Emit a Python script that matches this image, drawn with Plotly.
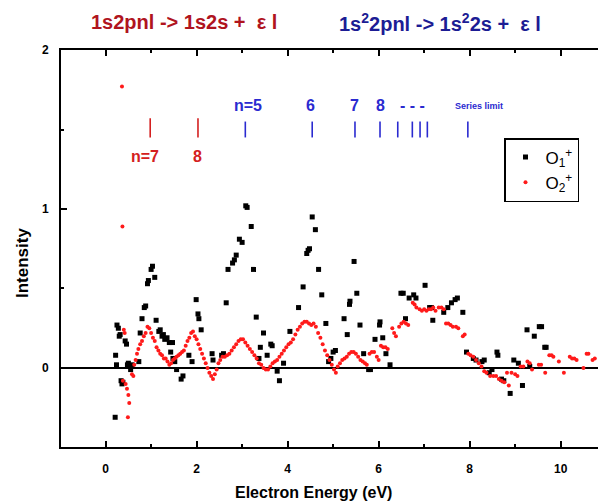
import plotly.graph_objects as go

# ---------------- data ----------------
o1_x = [0.21, 0.22, 0.24, 0.25, 0.28, 0.30, 0.32, 0.34, 0.36, 0.38, 0.43, 0.46, 0.48, 0.50, 0.53, 0.55, 0.58,
        0.73, 0.76, 0.80, 0.85, 0.88, 0.92, 0.94, 1.00, 1.03, 1.08, 1.11, 1.17, 1.20, 1.24, 1.27, 1.30, 1.35,
        1.40, 1.43, 1.47, 1.48, 1.52, 1.56, 1.66, 1.70, 1.83, 1.90, 1.99, 2.03, 2.05, 2.10, 2.34, 2.36, 2.55,
        2.59, 2.65, 2.69, 2.79, 2.83, 2.87, 2.94, 3.00, 3.08, 3.11, 3.20, 3.25, 3.31, 3.37, 3.40, 3.47, 3.55,
        3.63, 3.66, 3.77, 3.82, 3.91, 4.05, 4.24, 4.34, 4.42, 4.45, 4.48, 4.54, 4.61, 4.68, 4.75, 4.84, 4.90,
        4.95, 5.00, 5.05, 5.24, 5.31, 5.36, 5.37, 5.46, 5.52, 5.59, 5.67, 5.78, 5.82, 5.92, 6.02, 6.03, 6.09,
        6.16, 6.25, 6.49, 6.54, 6.59, 6.67, 6.77, 6.82, 7.02, 7.12, 7.16, 7.19, 7.43, 7.52, 7.60, 7.68, 7.73,
        7.85, 7.93, 8.08, 8.14, 8.27, 8.32, 8.43, 8.49, 8.60, 8.62, 8.70, 8.75, 8.89, 8.97, 9.07, 9.16, 9.26,
        9.32, 9.42, 9.53, 9.58, 9.65, 9.68]
o1_y = [-0.31, 0.08, 0.02, 0.27, 0.25, 0.20, 0.21, -0.08, -0.10, -0.09, 0.17, 0.15, 0.02, 0.03, 0.01, -0.01, 0.02,
        0.04, 0.22, 0.31, 0.38, 0.39, 0.53, 0.55, 0.62, 0.64, 0.57, 0.30, 0.23, 0.24, 0.20, 0.21, 0.18, 0.19,
        0.16, 0.10, 0.16, 0.06, 0.04, -0.01, -0.07, -0.05, 0.08, 0.04, 0.43, 0.34, 0.31, 0.24, 0.09, 0.05, 0.08,
        0.09, 0.41, 0.62, 0.66, 0.68, 0.71, 0.81, 0.79, 1.02, 1.01, 0.89, 0.62, 0.32, 0.06, 0.13, 0.22, 0.08,
        0.15, 0.14, -0.02, -0.08, 0.03, 0.23, 0.38, 0.51, 0.72, 0.74, 0.75, 0.95, 0.87, 0.62, 0.46, 0.28, 0.04,
        0.06, 0.10, 0.11, 0.31, 0.21, 0.40, 0.42, 0.67, 0.47, 0.27, 0.09, -0.01, -0.01, 0.18, 0.27, 0.29, 0.19,
        0.09, 0.02, 0.47, 0.47, 0.31, 0.44, 0.46, 0.44, 0.52, 0.38, 0.38, 0.30, 0.35, 0.38, 0.41, 0.43, 0.44,
        0.35, 0.10, 0.06, 0.05, 0.04, 0.05, -0.03, -0.01, 0.10, 0.08, -0.07, -0.08, -0.16, 0.05, 0.03, -0.11, 0.24,
        0.01, 0.20, 0.26, 0.26, 0.13, 0.13]

o2_x = [0.36, 0.37, 0.38, 0.40, 0.42, 0.44, 0.47, 0.49, 0.50, 0.52, 0.58, 0.61, 0.63, 0.66, 0.69, 0.72, 0.76,
        0.80, 0.84, 0.88, 0.92, 0.96, 1.00, 1.04, 1.08, 1.12, 1.16, 1.20, 1.24, 1.28, 1.32, 1.36, 1.40, 1.44,
        1.48, 1.52, 1.56, 1.60, 1.64, 1.68, 1.72, 1.76, 1.80, 1.84, 1.88, 1.92, 1.96, 2.00, 2.04, 2.08, 2.12,
        2.16, 2.20, 2.24, 2.28, 2.32, 2.36, 2.40, 2.44, 2.48, 2.52, 2.57, 2.62, 2.67, 2.72, 2.77, 2.82, 2.87,
        2.92, 2.97, 3.02, 3.07, 3.12, 3.17, 3.22, 3.27, 3.32, 3.37, 3.42, 3.47, 3.52, 3.57, 3.62, 3.67, 3.72,
        3.77, 3.82, 3.87, 3.92, 3.97, 4.02, 4.07, 4.12, 4.17, 4.22, 4.27, 4.32, 4.37, 4.42, 4.47, 4.52, 4.57,
        4.62, 4.67, 4.72, 4.77, 4.82, 4.87, 4.92, 4.97, 5.02, 5.06, 5.10, 5.15, 5.20, 5.25, 5.30, 5.35, 5.40,
        5.45, 5.50, 5.55, 5.60, 5.65, 5.70, 5.74, 5.80, 5.85, 5.90, 5.96, 6.00, 6.05, 6.10, 6.15, 6.20, 6.30,
        6.34, 6.38, 6.45, 6.50, 6.55, 6.60, 6.65, 6.75, 6.79, 6.83, 6.90, 6.95, 7.00, 7.05, 7.10, 7.15, 7.20,
        7.25, 7.32, 7.38, 7.43, 7.48, 7.53, 7.58, 7.63, 7.70, 7.75, 7.85, 7.89, 7.97, 8.02, 8.08, 8.14, 8.20,
        8.26, 8.32, 8.37, 8.45, 8.52, 8.58, 8.64, 8.70, 8.76, 8.82, 8.86, 8.92, 9.00, 9.05, 9.12, 9.18, 9.27,
        9.32, 9.37, 9.52, 9.57, 9.66, 9.75, 9.80, 9.84, 9.96, 10.07, 10.20, 10.25, 10.30, 10.35, 10.50, 10.57,
        10.61, 10.70, 10.75]
o2_y = [1.77, 0.89, -0.08, 0.24, 0.22, -0.10, -0.13, -0.31, -0.17, -0.22, -0.04, -0.05, 0.02, 0.05, 0.09, 0.12,
        0.15, 0.17, 0.20, 0.22, 0.26, 0.25, 0.22, 0.19, 0.17, 0.13, 0.11, 0.09, 0.08, 0.06, 0.06, 0.04, 0.02,
        0.03, 0.05, 0.06, 0.07, 0.08, 0.09, 0.10, 0.11, 0.14, 0.17, 0.19, 0.22, 0.23, 0.20, 0.18, 0.15, 0.12,
        0.09, 0.06, 0.03, 0.00, -0.03, -0.05, -0.07, -0.04, -0.01, 0.03, 0.05, 0.07, 0.07, 0.08, 0.09, 0.11,
        0.13, 0.15, 0.17, 0.18, 0.18, 0.16, 0.14, 0.12, 0.10, 0.08, 0.06, 0.03, 0.02, 0.00, -0.01, -0.01, 0.01,
        0.03, 0.04, 0.05, 0.07, 0.09, 0.11, 0.13, 0.15, 0.16, 0.18, 0.21, 0.24, 0.26, 0.28, 0.29, 0.29, 0.28,
        0.27, 0.28, 0.26, 0.22, 0.19, 0.15, 0.11, 0.08, 0.05, 0.02, -0.01, -0.03, 0.01, 0.03, 0.05, 0.06, 0.07,
        0.09, 0.10, 0.10, 0.09, 0.07, 0.05, 0.04, 0.03, 0.02, 0.09, 0.10, 0.10, 0.07, 0.05, 0.14, 0.13, 0.13,
        0.12, 0.25, 0.22, 0.20, 0.26, 0.28, 0.29, 0.28, 0.27, 0.41, 0.40, 0.38, 0.37, 0.36, 0.37, 0.36, 0.37,
        0.37, 0.38, 0.36, 0.38, 0.38, 0.37, 0.28, 0.28, 0.27, 0.26, 0.26, 0.25, 0.20, 0.21, 0.09, 0.08, 0.07,
        0.05, 0.03, 0.01, -0.02, -0.03, -0.05, -0.05, -0.05, -0.07, -0.08, -0.09, -0.03, -0.11, -0.03, -0.04,
        -0.05, 0.01, 0.01, 0.04, 0.03, -0.01, 0.02, 0.02, -0.03, 0.08, 0.08, 0.07, 0.04, -0.03, 0.07, 0.06, 0.06,
        0.05, 0.00, 0.09, 0.09, 0.05, 0.06]

# Rydberg level positions (eV)
red_levels = [0.98, 2.03]
red_level_labels = ["n=7", "8"]
blue_levels = [3.07, 4.54, 5.48, 6.03, 6.42, 6.74, 6.91, 7.07, 7.96]
blue_label_x = [3.12, 4.50, 5.48, 6.03, 6.75, 8.20]
blue_labels = ["n=5", "6", "7", "8", "- - -", "Series limit"]

x_ticks = [0, 2, 4, 6, 8, 10]
y_ticks = [0, 1, 2]

BOLD = "Liberation Sans"
RED_T = "#b0141e"
BLUE_T = "#1c1c94"
RED_L = "#d42020"
BLUE_L = "#2a2ad0"

W, H = 598, 501
L, R, T, B = 61, 0, 50, 54
pw, ph = W - L - R, H - T - B


def px(xp):
    return (xp - L) / pw


def py(yp):
    return (H - B - yp) / ph


fig = go.Figure()

fig.add_trace(go.Scatter(x=o1_x, y=o1_y, mode="markers", name="O<sub>1</sub><sup>+</sup>",
                         marker=dict(symbol="square", size=5, color="black")))
fig.add_trace(go.Scatter(x=o2_x, y=o2_y, mode="markers", name="O<sub>2</sub><sup>+</sup>",
                         marker=dict(symbol="circle", size=4, color="#ff1a1a")))


def seg(levels, y0, y1):
    xs, ys = [], []
    for v in levels:
        xs += [v, v, None]
        ys += [y0, y1, None]
    return xs, ys


rx, ry = seg(red_levels, 1.45, 1.57)
bx, by = seg(blue_levels, 1.45, 1.55)
fig.add_trace(go.Scatter(x=rx, y=ry, mode="lines", line=dict(color=RED_L, width=1.6),
                         showlegend=False, hoverinfo="skip"))
fig.add_trace(go.Scatter(x=bx, y=by, mode="lines", line=dict(color=BLUE_L, width=1.6),
                         showlegend=False, hoverinfo="skip"))

ann = []
for v, t in zip(red_levels, red_level_labels):
    xx = v - 0.12 if t.startswith("n") else v
    ann.append(dict(x=xx, y=1.33, xref="x", yref="y", text="<b>%s</b>" % t, showarrow=False,
                    xanchor="center", font=dict(family=BOLD, size=16, color=RED_L)))
for v, t in zip(blue_label_x, blue_labels):
    sz = 9 if t == "Series limit" else 16
    ann.append(dict(x=v, y=1.65, xref="x", yref="y", text="<b>%s</b>" % t, showarrow=False,
                    xanchor="center", font=dict(family=BOLD, size=sz, color=BLUE_L)))

ann.append(dict(x=px(184), y=py(22), xref="paper", yref="paper", xanchor="center", yanchor="middle",
                text="<b>1s2pnl -> 1s2s +  \u03b5 l</b>", showarrow=False,
                font=dict(family=BOLD, size=20, color=RED_T)))
ann.append(dict(x=px(440), y=py(22), xref="paper", yref="paper", xanchor="center", yanchor="middle",
                text="<b>1s<sup>2</sup>2pnl -> 1s<sup>2</sup>2s +  \u03b5 l</b>", showarrow=False,
                font=dict(family=BOLD, size=20, color=BLUE_T)))
ann.append(dict(x=px(313), y=py(492), xref="paper", yref="paper", xanchor="center", yanchor="middle",
                text="<b>Electron Energy (eV)</b>",
                showarrow=False, font=dict(family=BOLD, size=16, color="black")))
ann.append(dict(x=px(22), y=py(263), xref="paper", yref="paper", xanchor="center", yanchor="middle",
                text="<b>Intensity</b>", textangle=-90,
                showarrow=False, font=dict(family=BOLD, size=17, color="black")))

fig.update_layout(
    width=W, height=H,
    margin=dict(l=L, r=R, t=T, b=B),
    paper_bgcolor="white", plot_bgcolor="white",
    annotations=ann,
    legend=dict(x=px(504), y=py(138), xanchor="left", yanchor="top",
                bordercolor="black", borderwidth=1.5, bgcolor="white",
                font=dict(family=BOLD, size=17, color="black"), itemwidth=30),
    xaxis=dict(range=[-0.98, 10.82], tickvals=x_ticks, ticktext=["<b>%d</b>" % v for v in x_ticks],
               showgrid=False, zeroline=False, showline=True, linecolor="black", linewidth=2,
               mirror="ticks", ticks="inside", ticklen=6, tickwidth=1.5, tickcolor="black",
               minor=dict(dtick=1, tick0=0, ticks="inside", ticklen=3, tickwidth=1.5, tickcolor="black"),
               tickfont=dict(family=BOLD, size=12, color="black"), ticklabelstandoff=10),
    yaxis=dict(range=[-0.497, 2.0], tickvals=y_ticks, ticktext=["<b>%d</b>" % v for v in y_ticks],
               showgrid=False, zeroline=True, zerolinecolor="black", zerolinewidth=2,
               showline=True, linecolor="black", linewidth=2, mirror=False,
               ticks="inside", ticklen=6, tickwidth=1.5, tickcolor="black",
               minor=dict(dtick=0.5, tick0=0, ticks="inside", ticklen=3, tickwidth=1.5, tickcolor="black"),
               tickfont=dict(family=BOLD, size=12, color="black"), ticklabelstandoff=8),
)

fig.write_html("out.html")
